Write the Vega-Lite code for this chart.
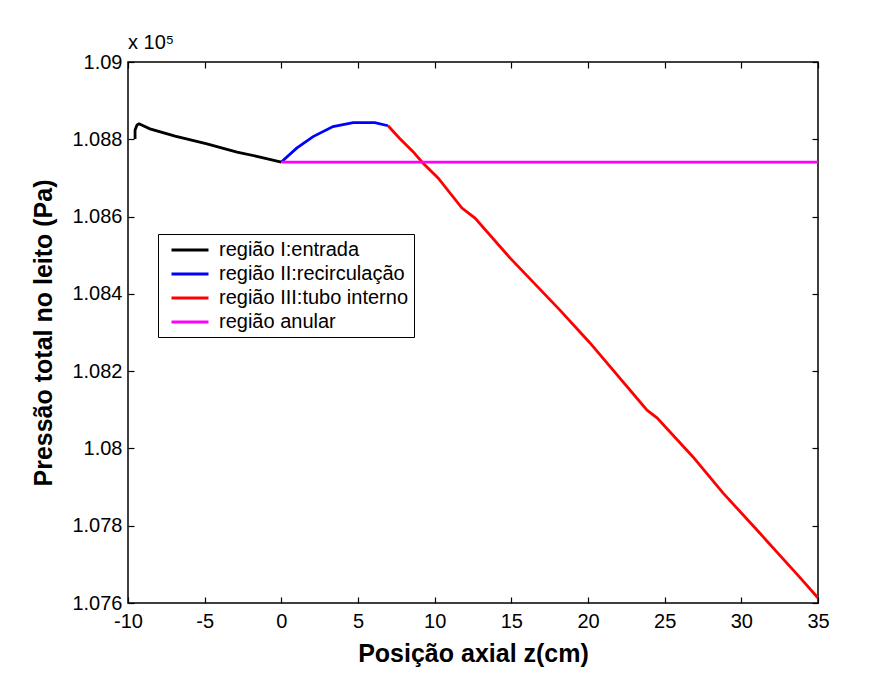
{
  "$schema": "https://vega.github.io/schema/vega-lite/v6.json",
  "width": 690,
  "height": 541,
  "autosize": "none",
  "padding": {"left": 128, "top": 62, "right": 78, "bottom": 72},
  "background": "white",
  "title": {"text": "x 10⁵", "anchor": "start", "frame": "group", "font": "Liberation Sans", "fontSize": 20, "fontWeight": "normal", "color": "black", "offset": -1},
  "config": {
    "view": {"stroke": "black", "strokeWidth": 1.5},
    "font": "Liberation Sans",
    "axis": {"grid": false, "domain": false, "labelFlush": false, "tickColor": "black", "tickWidth": 1.2, "labelColor": "black", "labelFont": "Liberation Sans", "labelFontSize": 20, "titleFont": "Liberation Sans", "titleFontSize": 25, "titleFontWeight": "bold", "titleColor": "black"}
  },
  "data": {"values": [
    {"s": "região I:entrada", "i": 0, "z": -9.54, "p": 1.08801},
    {"s": "região I:entrada", "i": 1, "z": -9.54, "p": 1.08824},
    {"s": "região I:entrada", "i": 2, "z": -9.41, "p": 1.08837},
    {"s": "região I:entrada", "i": 3, "z": -9.28, "p": 1.0884},
    {"s": "região I:entrada", "i": 4, "z": -8.57, "p": 1.08827},
    {"s": "região I:entrada", "i": 5, "z": -6.93, "p": 1.08808},
    {"s": "região I:entrada", "i": 6, "z": -4.85, "p": 1.08788},
    {"s": "região I:entrada", "i": 7, "z": -2.89, "p": 1.08767},
    {"s": "região I:entrada", "i": 8, "z": -1.39, "p": 1.08754},
    {"s": "região I:entrada", "i": 9, "z": 0, "p": 1.08741},
    {"s": "região II:recirculação", "i": 0, "z": 0, "p": 1.08741},
    {"s": "região II:recirculação", "i": 1, "z": 1.0, "p": 1.08777},
    {"s": "região II:recirculação", "i": 2, "z": 2.07, "p": 1.08807},
    {"s": "região II:recirculação", "i": 3, "z": 3.37, "p": 1.08833},
    {"s": "região II:recirculação", "i": 4, "z": 4.68, "p": 1.08843},
    {"s": "região II:recirculação", "i": 5, "z": 6.1, "p": 1.08843},
    {"s": "região II:recirculação", "i": 6, "z": 6.96, "p": 1.08835},
    {"s": "região III:tubo interno", "i": 0, "z": 6.96, "p": 1.08835},
    {"s": "região III:tubo interno", "i": 1, "z": 7.72, "p": 1.08802},
    {"s": "região III:tubo interno", "i": 2, "z": 8.59, "p": 1.08768},
    {"s": "região III:tubo interno", "i": 3, "z": 9.2, "p": 1.0874},
    {"s": "região III:tubo interno", "i": 4, "z": 10.22, "p": 1.087},
    {"s": "região III:tubo interno", "i": 5, "z": 11.78, "p": 1.08622},
    {"s": "região III:tubo interno", "i": 6, "z": 12.63, "p": 1.08596},
    {"s": "região III:tubo interno", "i": 7, "z": 14.91, "p": 1.08493},
    {"s": "região III:tubo interno", "i": 8, "z": 18.17, "p": 1.08358},
    {"s": "região III:tubo interno", "i": 9, "z": 20.13, "p": 1.08273},
    {"s": "região III:tubo interno", "i": 10, "z": 23.85, "p": 1.08099},
    {"s": "região III:tubo interno", "i": 11, "z": 24.5, "p": 1.08079},
    {"s": "região III:tubo interno", "i": 12, "z": 26.85, "p": 1.07978},
    {"s": "região III:tubo interno", "i": 13, "z": 28.8, "p": 1.07885},
    {"s": "região III:tubo interno", "i": 14, "z": 31.2, "p": 1.07781},
    {"s": "região III:tubo interno", "i": 15, "z": 33.8, "p": 1.07667},
    {"s": "região III:tubo interno", "i": 16, "z": 35, "p": 1.07613},
    {"s": "região anular", "i": 0, "z": 0, "p": 1.08741},
    {"s": "região anular", "i": 1, "z": 35, "p": 1.08741}
  ]},
  "layer": [
    {
      "mark": {"type": "line", "strokeWidth": 2.8, "clip": true},
      "encoding": {
        "x": {"field": "z", "type": "quantitative", "scale": {"domain": [-10, 35], "nice": false, "zero": false},
              "axis": {"orient": "bottom", "values": [-10, -5, 0, 5, 10, 15, 20, 25, 30, 35], "labelExpr": "toString(datum.value)", "tickSize": -6, "labelPadding": 14, "title": "Posição axial z(cm)", "titlePadding": 10}},
        "y": {"field": "p", "type": "quantitative", "scale": {"domain": [1.076, 1.09], "nice": false, "zero": false},
              "axis": {"orient": "left", "values": [1.076, 1.078, 1.08, 1.082, 1.084, 1.086, 1.088, 1.09], "format": "~g", "tickSize": -6, "labelPadding": 12, "title": "Pressão total no leito (Pa)", "titlePadding": 15}},
        "color": {"field": "s", "type": "nominal",
                  "scale": {"domain": ["região I:entrada", "região II:recirculação", "região III:tubo interno", "região anular"], "range": ["#000000", "#0000ff", "#ff0000", "#ff00ff"]},
                  "legend": {"title": null, "orient": "none", "legendX": 30, "legendY": 172, "symbolType": "M-2,0H2", "symbolSize": 342, "symbolStrokeWidth": 3, "symbolOffset": 16, "labelFontSize": 20, "labelFont": "Liberation Sans", "labelColor": "black", "strokeColor": "black", "fillColor": "white", "padding": 5, "rowPadding": 3, "labelOffset": 18, "labelLimit": 400}},
        "order": {"field": "i", "type": "quantitative"}
      }
    },
    {
      "mark": {"type": "line", "opacity": 0},
      "encoding": {
        "x": {"field": "z", "type": "quantitative", "scale": {"domain": [-10, 35], "nice": false, "zero": false},
              "axis": {"orient": "top", "values": [-10, -5, 0, 5, 10, 15, 20, 25, 30, 35], "tickSize": -6, "labels": false, "title": null}},
        "y": {"field": "p", "type": "quantitative", "scale": {"domain": [1.076, 1.09], "nice": false, "zero": false},
              "axis": {"orient": "right", "values": [1.076, 1.078, 1.08, 1.082, 1.084, 1.086, 1.088, 1.09], "tickSize": -6, "labels": false, "title": null}},
        "detail": {"field": "s"},
        "order": {"field": "i", "type": "quantitative"}
      }
    }
  ],
  "resolve": {"axis": {"x": "independent", "y": "independent"}}
}
